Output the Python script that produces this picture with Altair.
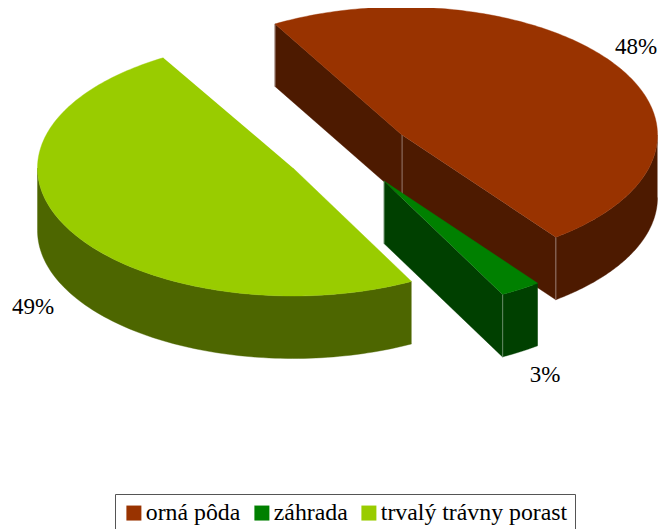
import numpy as np
import pandas as pd
import altair as alt

categories = ["orná pôda", "záhrada", "trvalý trávny porast"]
shares = [48, 2.6, 49.2]
labels = ["48%", "3%", "49%"]
top_colors = ["#993300", "#008000", "#99cc00"]
side_colors = ["#4d1a00", "#004000", "#4d6600"]
seam_colors = ["#95766a", "#668c66", "#94a366"]
centre_x = [402, 384, 293]
centre_y = [135, 181, 168]
label_x = [636, 545, 33]
label_y = [47, 375, 307]

RX, RY, DEPTH, START = 255.5, 128, 62.5, -29.8

def rim(cx, cy, deg, drop=0):
    t = np.radians(deg)
    return cx + RX * np.sin(t), cy - RY * np.cos(t) + drop

polys = []
def add(name, pts, color):
    for i, (x, y) in enumerate(pts):
        polys.append(dict(shape=name, i=i, x=float(x), y=float(y), color=color))

def seam(name, x, y, color):
    add(name, [(x - 0.4, y), (x + 0.4, y), (x + 0.4, y + DEPTH), (x - 0.4, y + DEPTH)], color)

edges = START + np.cumsum([0] + shares) * 3.6
for k in [2, 0, 1]:
    a, b = edges[k], edges[k + 1]
    cx, cy = centre_x[k], centre_y[k]
    top, side, sc = top_colors[k], side_colors[k], seam_colors[k]
    lo, hi = max(a, 90), min(b, 270)
    arc = np.linspace(lo, hi, 90)
    wall = [rim(cx, cy, d) for d in arc] + [rim(cx, cy, d, DEPTH) for d in arc[::-1]]
    add(f"{k}wall", wall, side)
    if k == 0:
        p = rim(cx, cy, a)
        add(f"{k}face0", [(cx, cy), p, (p[0], p[1] + DEPTH), (cx, cy + DEPTH)], side)
        seam(f"{k}s0", p[0], p[1], sc)
    if k in (0, 1):
        p = rim(cx, cy, b)
        add(f"{k}face1", [(cx, cy), p, (p[0], p[1] + DEPTH), (cx, cy + DEPTH)], side)
        seam(f"{k}s1", p[0], p[1], sc)
        seam(f"{k}s2", cx, cy, sc)
    arc2 = np.linspace(a, b, 180)
    add(f"{k}top", [(cx, cy)] + [rim(cx, cy, d) for d in arc2], top)

df = pd.DataFrame(polys)
df["ord"] = df["shape"].map({s: n for n, s in enumerate(dict.fromkeys(df["shape"]))})

xs = alt.Scale(domain=[8, 659], range=[0, 651], nice=False, zero=False)
ys = alt.Scale(domain=[529, 8], range=[521, 0], nice=False, zero=False)
X = alt.X("x:Q", scale=xs, axis=None)
Y = alt.Y("y:Q", scale=ys, axis=None)

shapes = alt.Chart(df).mark_line(strokeWidth=0.4, interpolate="linear", clip=False).encode(
    x=X, y=Y, order="i:Q",
    detail="ord:O",
    fill=alt.Fill("color:N", scale=None, legend=None),
    stroke=alt.Stroke("color:N", scale=None, legend=None),
)

txt = pd.DataFrame({"x": label_x, "y": label_y, "t": labels})
texts = alt.Chart(txt).mark_text(font="Liberation Serif", fontSize=23, color="#000000").encode(
    x=X, y=Y, text="t:N"
)

leg = pd.DataFrame({"x": centre_x, "y": centre_y, "c": categories})
legend_layer = alt.Chart(leg).mark_square(size=1, opacity=0).encode(
    x=X, y=Y,
    fill=alt.Fill("c:N", scale=alt.Scale(domain=categories, range=top_colors),
        legend=alt.Legend(
            title=None, orient="none", direction="horizontal", legendX=107, legendY=486,
            symbolType="square", symbolSize=225, symbolOpacity=1, symbolStrokeWidth=0,
            labelFont="Liberation Serif", labelFontSize=23.8, labelColor="#000000", labelLimit=300,
            strokeColor="#555555", fillColor="#ffffff", padding=7,
            columnPadding=9, labelOffset=0, columns=3)),
)

chart = alt.layer(shapes, texts, legend_layer).resolve_scale(fill="independent").properties(
    width=651, height=521, padding=0,
    autosize=alt.AutoSizeParams(type="none"), background="#ffffff"
).configure_view(stroke=None)

chart.save("out.html", embed_options={"renderer": "svg", "actions": False})
